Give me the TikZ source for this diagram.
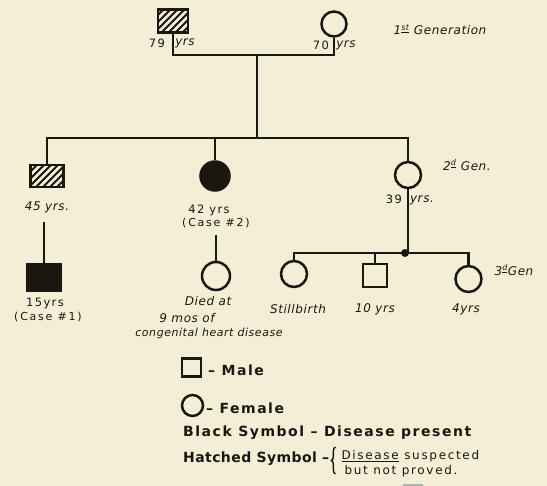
\documentclass[tikz,border=0pt]{standalone}
\usepackage{fontspec}
\setmainfont{DejaVu Sans}
\newfontfamily\hA[LetterSpace=5]{DejaVu Sans}
\newfontfamily\hB[LetterSpace=12]{DejaVu Sans}
\newfontfamily\hC[LetterSpace=16]{DejaVu Sans}
\newfontfamily\hL[LetterSpace=11]{DejaVu Sans Bold}
\newfontfamily\hH[LetterSpace=3]{DejaVu Sans Bold}
\newfontfamily\hD[LetterSpace=14]{DejaVu Sans}
\usetikzlibrary{decorations.pathreplacing,calc}
\definecolor{paper}{RGB}{243,239,214}
\definecolor{ink}{RGB}{28,22,16}
\begin{document}
\begin{tikzpicture}[x=1pt,y=-1pt,
  line width=2.3pt, color=ink,
  sym/.style={draw=ink, line width=2.5pt, inner sep=0pt},
  male/.style={sym, rectangle},
  female/.style={sym, circle},
  affected/.style={fill=ink},
  hatched/.style={path picture={\foreach \i in {-63,-56,...,63}{\draw[line width=2pt,ink] ($(path picture bounding box.center)+(\i pt,0pt)+(-30pt,-30pt)$) -- ++(60pt,60pt);}}},
  lab/.style={font=\hA\itshape\fontsize{12}{13}\selectfont, inner sep=0pt, text=ink},
  num/.style={font=\hB\fontsize{11.5}{13}\selectfont, inner sep=0pt, text=ink},
  case/.style={font=\hC\fontsize{11}{12}\selectfont, inner sep=0pt, text=ink},
  genlab/.style={font=\hA\itshape\fontsize{12}{14}\selectfont, inner sep=0pt, text=ink},
  leg/.style={font=\hL\fontsize{14}{16}\selectfont, inner sep=0pt, anchor=west, text=ink},
]
\fill[paper] (0,0) rectangle (547,486);
\useasboundingbox (0,0) rectangle (547,486);

% ---------- 1st generation
\node[male, hatched, minimum width=30pt, minimum height=23pt] (g1m) at (173,21) {};
\node[female, minimum size=25pt] (g1f) at (334,24) {};
\coordinate (m1) at (257,55);
\coordinate (s1) at (257,138);
\draw (g1m.south) |- (g1f.south |- m1) -- (g1f.south);
\draw (m1) -- (s1);
\node[num] (t79) at (157,43) {79};
\node[lab] (t79y) at (185,43) {yrs};
\node[num] (t70) at (321,45) {70};
\node[lab] (t70y) at (346,45) {yrs};
\node[genlab] (gen1) at (440,30) {1\textsuperscript{\underline{st}} Generation};

% ---------- 2nd generation
\node[male, hatched, minimum width=33pt, minimum height=22pt] (g2a) at (47,176) {};
\node[female, affected, minimum size=29pt] (g2b) at (215,176) {};
\node[female, minimum size=26pt] (g2c) at (408,175) {};
\draw (g2a.north) -- (g2a.north |- s1) -- (g2c.north |- s1) -- (g2c.north);
\draw (g2b.north) -- (g2b.north |- s1);
\node[lab] (t45) at (47,207) {45 yrs.};
\node[num] (t42) at (209,210) {42 yrs};
\node[case] (c2) at (216,223) {(Case \#2)};
\node[num] (t39) at (394,199) {39};
\node[lab] (t39y) at (422,200) {yrs.};
\node[genlab] (gen2) at (467,165) {2\textsuperscript{\underline{d}} Gen.};

% ---------- 3rd generation
\node[male, affected, minimum width=33pt, minimum height=27pt] (g3a) at (44,277.5) {};
\coordinate (a1) at (44,222);
\draw (a1) -- (g3a.north);
\node[num] (t15) at (45,304) {15yrs};
\node[case] (c1) at (48,317) {(Case \#1)};

\node[female, minimum size=28pt] (g3e) at (216,276) {};
\coordinate (b1) at (216,235);
\draw (b1) -- (g3e.north);
\node[lab] (died1) at (208,301) {Died at};
\node[lab] (died2) at (187,318) {9 mos of};
\node[lab, font=\hA\itshape\fontsize{11}{12}\selectfont] (died3) at (209,333) {congenital heart disease};

\coordinate (s2) at (408,253);
\draw (g2c.south) -- (s2);
\node[female, minimum size=26pt] (g3b) at (294,274) {};
\node[male, minimum width=24pt, minimum height=23pt] (g3c) at (375,275.5) {};
\node[female, minimum size=26pt] (g3d) at (468.5,279) {};
\draw (g3b.north) -- (g3b.north |- s2) -- (g3d.north |- s2) -- (g3d.north);
\draw (g3c.north) -- (g3c.north |- s2);
\node[fill=ink, circle, inner sep=0pt, minimum size=8pt] (dot) at (405,253) {};
\node[lab] (still) at (298,309) {Stillbirth};
\node[lab] (t10) at (375,309) {10 yrs};
\node[lab] (t4) at (466,309) {4yrs};
\node[genlab] (gen3) at (514,270) {3\textsuperscript{\underline{d}}Gen};

% ---------- legend
\node[male, minimum width=19pt, minimum height=18pt] (lm) at (191.5,367.5) {};
\node[leg] (lmt) at (207,370) {– Male};
\node[female, minimum size=21pt] (lf) at (192.5,405.5) {};
\node[leg] (lft) at (205,408) {– Female};
\node[leg] (lb) at (182,433) {Black Symbol – Disease present};
\node[leg, font=\hH\fontsize{14}{16}\selectfont] (lh) at (182,459) {Hatched Symbol –};
\coordinate (br1) at ($(lh.east)+(5,15)$);
\coordinate (br2) at ($(lh.east)+(5,-12)$);
\draw[line width=1.4pt, decorate, decoration={brace, amplitude=4pt}] (br1) -- (br2);
\node[leg, font=\hD\fontsize{12}{14}\selectfont] (ld1) at ($(lh.east)+(10,-3)$) {\underline{Disease} suspected};
\node[leg, font=\hD\fontsize{12}{14}\selectfont] (ld2) at ($(lh.east)+(13,12)$) {but not proved.};
\coordinate (u1) at (403,485);
\coordinate (u2) at (423,485);
\draw[line width=1.2pt, gray!60] (u1) -- (u2);
\end{tikzpicture}
\end{document}
